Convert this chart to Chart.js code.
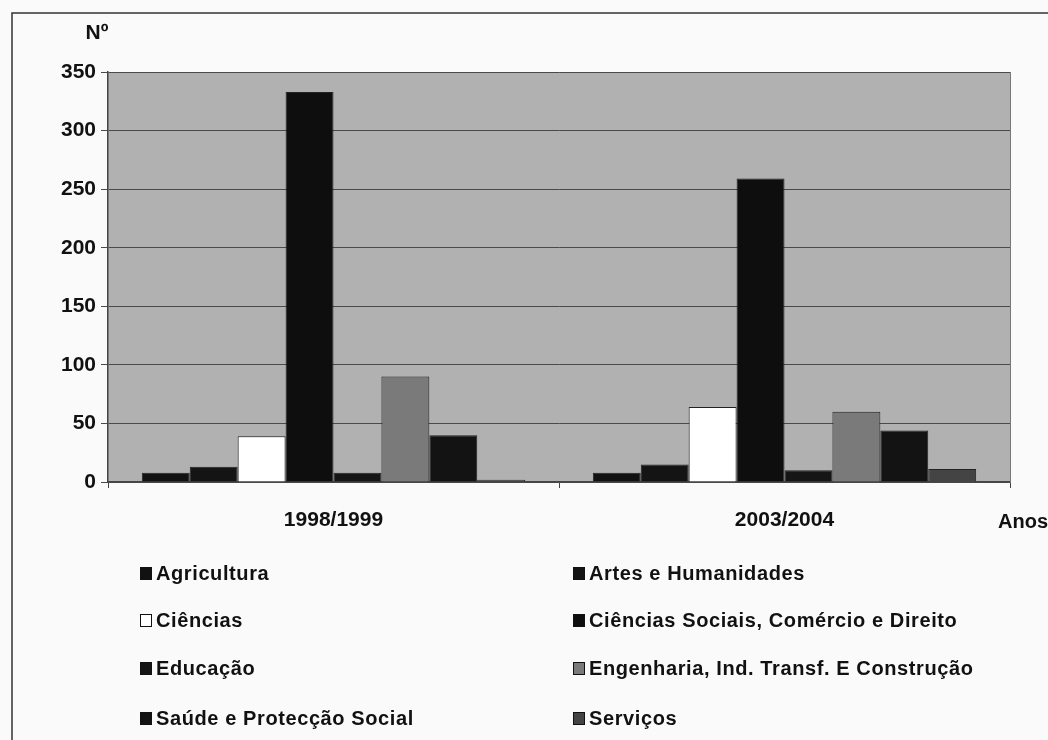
<!DOCTYPE html>
<html>
<head>
<meta charset="utf-8">
<script src="https://cdn.jsdelivr.net/npm/chart.js@4"></script>
<style>
  html, body { margin: 0; padding: 0; background: #fafafa; }
  #wrap { width: 1048px; height: 740px; position: relative; }
</style>
</head>
<body>
<div id="wrap"><canvas id="chart" width="1048" height="740"></canvas></div>
<script>
// Anos lectivos
const years = ["1998/1999", "2003/2004"]

// Áreas de formação
const areas = [
  "Agricultura",
  "Artes e Humanidades",
  "Ciências",
  "Ciências Sociais, Comércio e Direito",
  "Educação",
  "Engenharia, Ind. Transf. E Construção",
  "Saúde e Protecção Social",
  "Serviços"
]

// Nº por área, um valor por ano
const agricultura = [8, 8]
const artes = [13, 15]
const ciencias = [39, 64]
const cienciasSociais = [333, 259]
const educacao = [8, 10]
const engenharia = [90, 60]
const saude = [40, 44]
const servicos = [2, 11]

const yTicks = [0, 50, 100, 150, 200, 250, 300, 350]

const seriesValues = [agricultura, artes, ciencias, cienciasSociais, educacao, engenharia, saude, servicos]
const fills = ["#111111", "#141414", "#ffffff", "#0e0e0e", "#151515", "#7a7a7a", "#131313", "#444444"]

const FONT = "'Liberation Sans', Arial, sans-serif"

// Grey plot background, frame, axis titles and the two-column legend
const decorations = {
  id: "decorations",
  beforeDraw(chart) {
    const { ctx, chartArea: a } = chart
    ctx.save()
    ctx.fillStyle = "#b1b1b1"
    ctx.fillRect(a.left, a.top, a.right - a.left, a.bottom - a.top)
    ctx.restore()
  },
  afterDraw(chart) {
    const { ctx, chartArea: a } = chart
    ctx.save()
    // outer frame
    ctx.strokeStyle = "#333"
    ctx.lineWidth = 1.5
    ctx.strokeRect(12, 13, 1100, 800)
    // plot right border
    ctx.strokeStyle = "#777"
    ctx.lineWidth = 1
    ctx.beginPath()
    ctx.moveTo(a.right + 0.5, a.top)
    ctx.lineTo(a.right + 0.5, a.bottom)
    ctx.stroke()

    ctx.fillStyle = "#111"
    ctx.font = "bold 21px " + FONT
    ctx.textBaseline = "middle"
    ctx.textAlign = "center"
    ctx.fillText("Nº", 97, 33)
    ctx.textAlign = "left"
    ctx.font = "bold 20px " + FONT
    ctx.fillText("Anos", 998, 522)

    // legend
    ctx.font = "bold 20px " + FONT
    ctx.letterSpacing = "0.6px"
    const colX = [140, 573]
    const rowY = [573, 620, 668, 718]
    chart.data.datasets.forEach((ds, i) => {
      const x = colX[i % 2]
      const y = rowY[Math.floor(i / 2)]
      ctx.fillStyle = ds.backgroundColor
      ctx.fillRect(x, y - 6, 11, 12)
      ctx.strokeStyle = "#111"
      ctx.lineWidth = 1
      ctx.strokeRect(x + 0.5, y - 5.5, 11, 12)
      ctx.fillStyle = "#111"
      ctx.fillText(ds.label, x + 16, y + 1)
    })
    ctx.restore()
  }
}

const ctx = document.getElementById("chart").getContext("2d")
new Chart(ctx, {
  type: "bar",
  data: {
    labels: years,
    datasets: areas.map((name, i) => ({
      label: name,
      data: seriesValues[i],
      backgroundColor: fills[i],
      borderColor: "#222",
      borderWidth: 1,
      categoryPercentage: 0.85,
      barPercentage: 1.0
    }))
  },
  options: {
    responsive: false,
    animation: false,
    layout: { padding: { left: 12, top: 72, right: 38, bottom: 208 } },
    plugins: {
      legend: { display: false },
      tooltip: { enabled: false }
    },
    scales: {
      x: {
        afterFit: (s) => { s.height = 50 },
        grid: { display: true, drawOnChartArea: false, color: "#444", tickLength: 6, offset: true },
        border: { color: "#444", width: 1.5 },
        ticks: { color: "#111", font: { family: FONT, size: 21, weight: "bold" }, padding: 20 }
      },
      y: {
        min: 0,
        max: 350,
        afterFit: (s) => { s.width = 96 },
        afterBuildTicks: (s) => { s.ticks = yTicks.map(v => ({ value: v })) },
        grid: { color: "#4a4a4a", lineWidth: 1, tickLength: 7 },
        border: { color: "#444", width: 1.5 },
        ticks: { color: "#111", font: { family: FONT, size: 21, weight: "bold" }, padding: 5 }
      }
    }
  },
  plugins: [decorations]
})
</script>
</body>
</html>
